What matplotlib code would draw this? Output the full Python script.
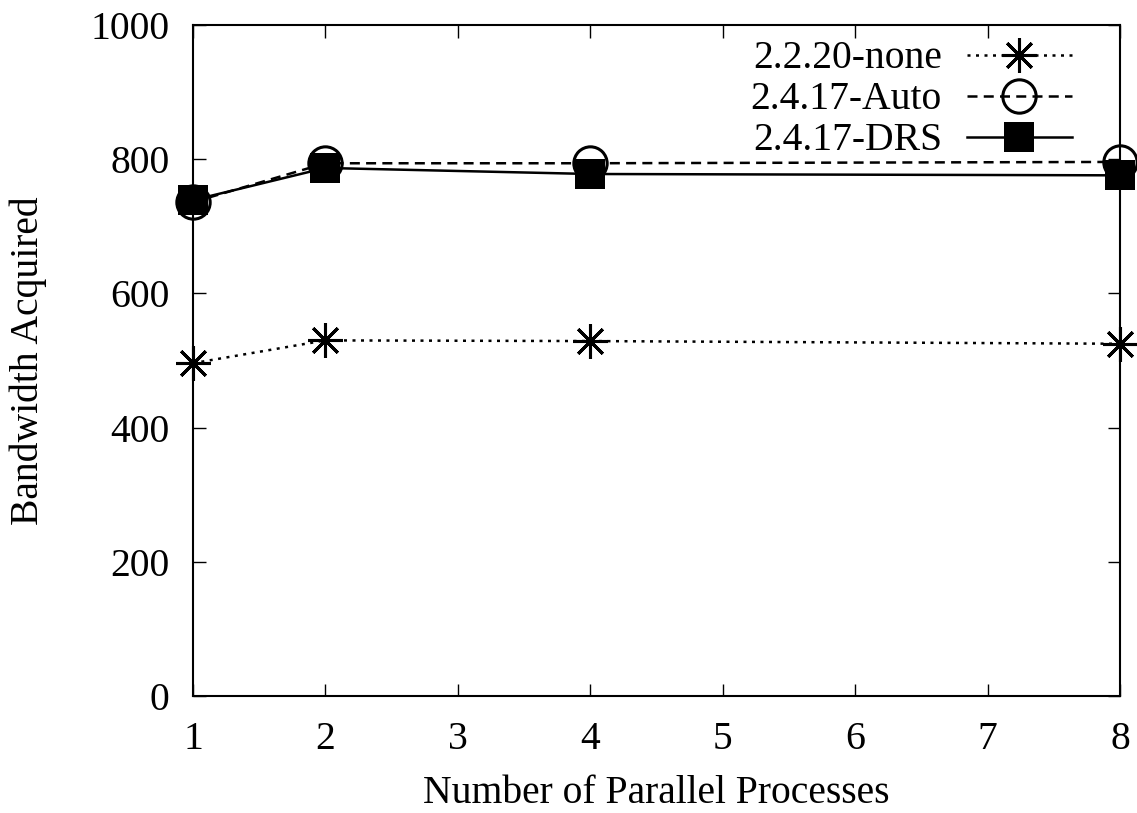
import matplotlib
matplotlib.use("Agg")
from matplotlib import pyplot as plt

plt.rcParams['font.family'] = ['Liberation Serif', 'DejaVu Serif']
plt.rcParams['font.size'] = 28.5

## data
procs = [1, 2, 4, 8]
bw_none = [496, 530, 529, 525]
bw_auto = [736, 794, 794, 796]
bw_drs = [739, 787, 778, 776]

fig = plt.figure(figsize=(11.37, 8.13), dpi=100)
ax = fig.add_axes([0.1697, 0.1439, 0.8153, 0.8253])

ax.plot(procs, bw_none, color='k', linestyle=(0, (1.2, 2.2)), linewidth=1.8,
        marker=(8, 2, 0), markersize=25, markeredgewidth=2.2, clip_on=False,
        label='2.2.20-none')
ax.plot(procs, bw_auto, color='k', linestyle=(0, (4, 2.5)), linewidth=1.8,
        marker='o', markersize=24, markerfacecolor='none', markeredgewidth=2.2,
        clip_on=False, label='2.4.17-Auto')
ax.plot(procs, bw_drs, color='k', linestyle='-', linewidth=1.8,
        marker='s', markersize=22, markeredgewidth=0, clip_on=False,
        label='2.4.17-DRS')

ax.set_xlim(1, 8)
ax.set_ylim(0, 1000)
ax.set_xticks(range(1, 9))
ax.set_yticks(range(0, 1001, 200))
ax.tick_params(direction='in', length=9, width=1, top=True, right=True)
ax.tick_params(axis='x', pad=18)
ax.tick_params(axis='y', pad=17)
for s in ax.spines.values():
    s.set_linewidth(1.5)

ax.set_xlabel('Number of Parallel Processes', labelpad=12)
ax.set_ylabel('Bandwidth Acquired', labelpad=31)

ax.legend(loc='upper right', frameon=False, markerfirst=False,
          handlelength=2.65, handletextpad=0.63, labelspacing=0.1,
          borderpad=0, borderaxespad=0, bbox_to_anchor=(0.948, 0.977),
          fontsize=28.5)

fig.savefig('out.png', dpi=100)
